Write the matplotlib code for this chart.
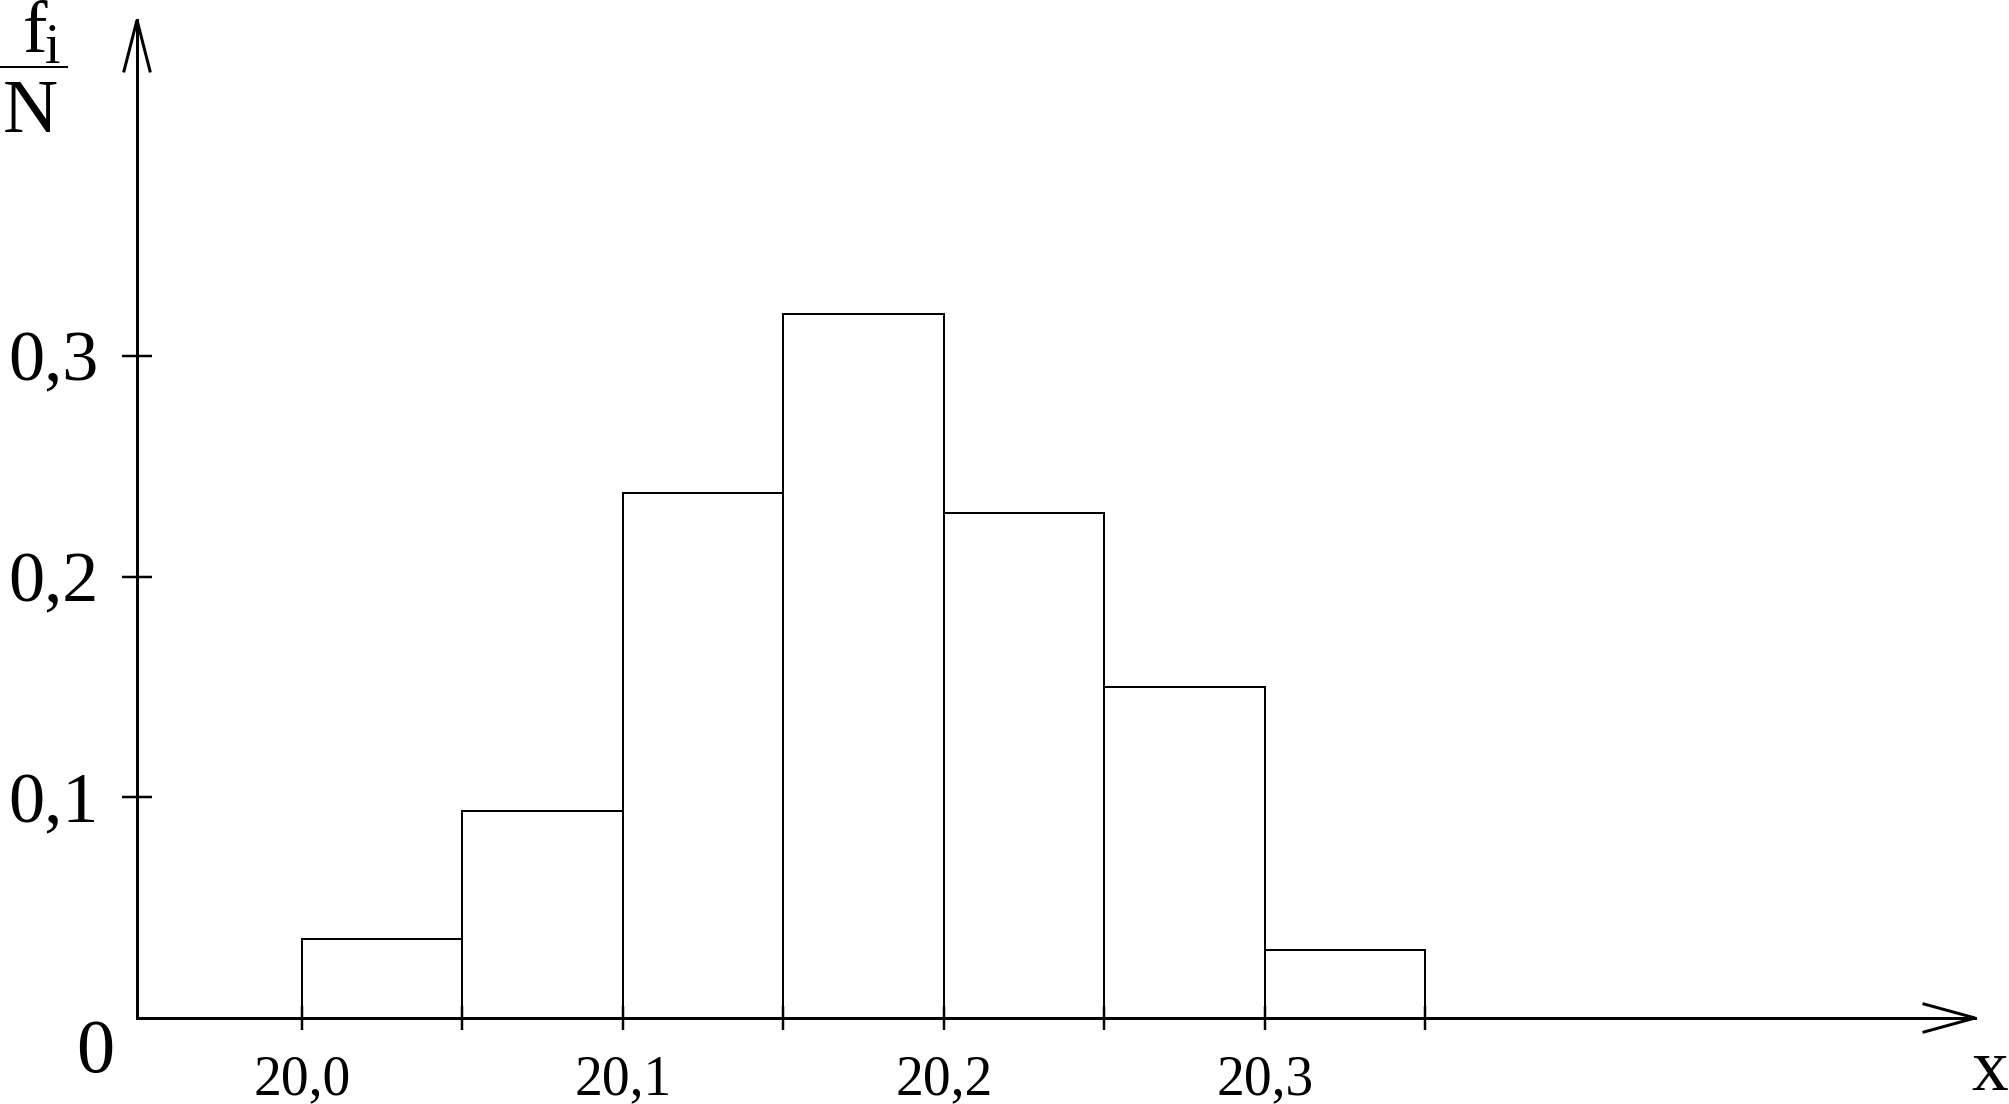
import matplotlib
matplotlib.use("Agg")
import matplotlib.pyplot as plt
from matplotlib.lines import Line2D

# ---- data ----
bin_edges = [20.00, 20.05, 20.10, 20.15, 20.20, 20.25, 20.30, 20.35]
rel_freq = [0.036, 0.094, 0.238, 0.319, 0.229, 0.150, 0.031]
x_major_ticks = [20.0, 20.1, 20.2, 20.3]
x_major_labels = ["20,0", "20,1", "20,2", "20,3"]
y_ticks = [0.1, 0.2, 0.3]
y_tick_labels = ["0,1", "0,2", "0,3"]

W, H = 2009, 1104
DPI = 100
fig = plt.figure(figsize=(W / DPI, H / DPI), dpi=DPI)
fig.patch.set_facecolor("white")

SERIF = ["Liberation Serif", "DejaVu Serif"]
PX = 72.0 / DPI  # points per pixel

# axes box in pixels (origin at top-left of image)
ax_left, ax_right, ax_top, ax_bottom = 137, 1975, 20, 1018
ax = fig.add_axes([ax_left / W, 1 - ax_bottom / H,
                   (ax_right - ax_left) / W, (ax_bottom - ax_top) / H])
ax.set_xlim(19.9486, 20.5212)
ax.set_ylim(0, 0.4522)
ax.set_facecolor("none")

widths = [b - a for a, b in zip(bin_edges[:-1], bin_edges[1:])]
ax.bar(bin_edges[:-1], rel_freq, width=widths, align="edge",
       fill=False, edgecolor="black", linewidth=2.0 * PX, zorder=2)

for s in ("top", "right"):
    ax.spines[s].set_visible(False)
for s in ("left", "bottom"):
    ax.spines[s].set_linewidth(3.0 * PX)
    ax.spines[s].set_zorder(3)

ax.set_xticks(x_major_ticks)
ax.set_xticklabels(x_major_labels, fontfamily=SERIF, fontsize=40)
ax.set_xticks(bin_edges, minor=True)
ax.tick_params(axis="x", which="both", direction="inout", length=24 * PX,
               width=2.5 * PX, pad=24 * PX)
ax.tick_params(axis="x", which="minor", labelbottom=False)

ax.set_yticks(y_ticks)
ax.set_yticklabels(y_tick_labels, fontfamily=SERIF, fontsize=52)
ax.tick_params(axis="y", direction="inout", length=30 * PX,
               width=2.5 * PX, pad=23 * PX)

# arrowheads (open V) in axes fraction
aw = ax_right - ax_left
ah = ax_bottom - ax_top
lw_ax = 3.0 * PX
ax.add_line(Line2D([-13 / aw, 0, 13 / aw], [1 - 51 / ah, 1, 1 - 51 / ah],
                   transform=ax.transAxes, color="black", lw=lw_ax,
                   clip_on=False, solid_joinstyle="miter"))
ax.add_line(Line2D([1 - 51 / aw, 1, 1 - 51 / aw], [14 / ah, 0, -14 / ah],
                   transform=ax.transAxes, color="black", lw=lw_ax,
                   clip_on=False, solid_joinstyle="miter"))

def ftext(px, py, s, size, ha="center"):
    fig.text(px / W, 1 - py / H, s, fontfamily=SERIF, fontsize=size,
             ha=ha, va="baseline", color="black")

# origin label and axis names
ftext(95, 1072, "0", 55)
ftext(1990, 1090, "x", 53)
ftext(35, 52, "f", 53)
ftext(53, 63, "i", 40)
fig.add_artist(Line2D([1 / W, 67 / W], [1 - 67 / H, 1 - 67 / H],
                      color="black", lw=2.0 * PX))
ftext(30, 132, "N", 55)

fig.savefig("out.png", dpi=DPI, facecolor="white")
